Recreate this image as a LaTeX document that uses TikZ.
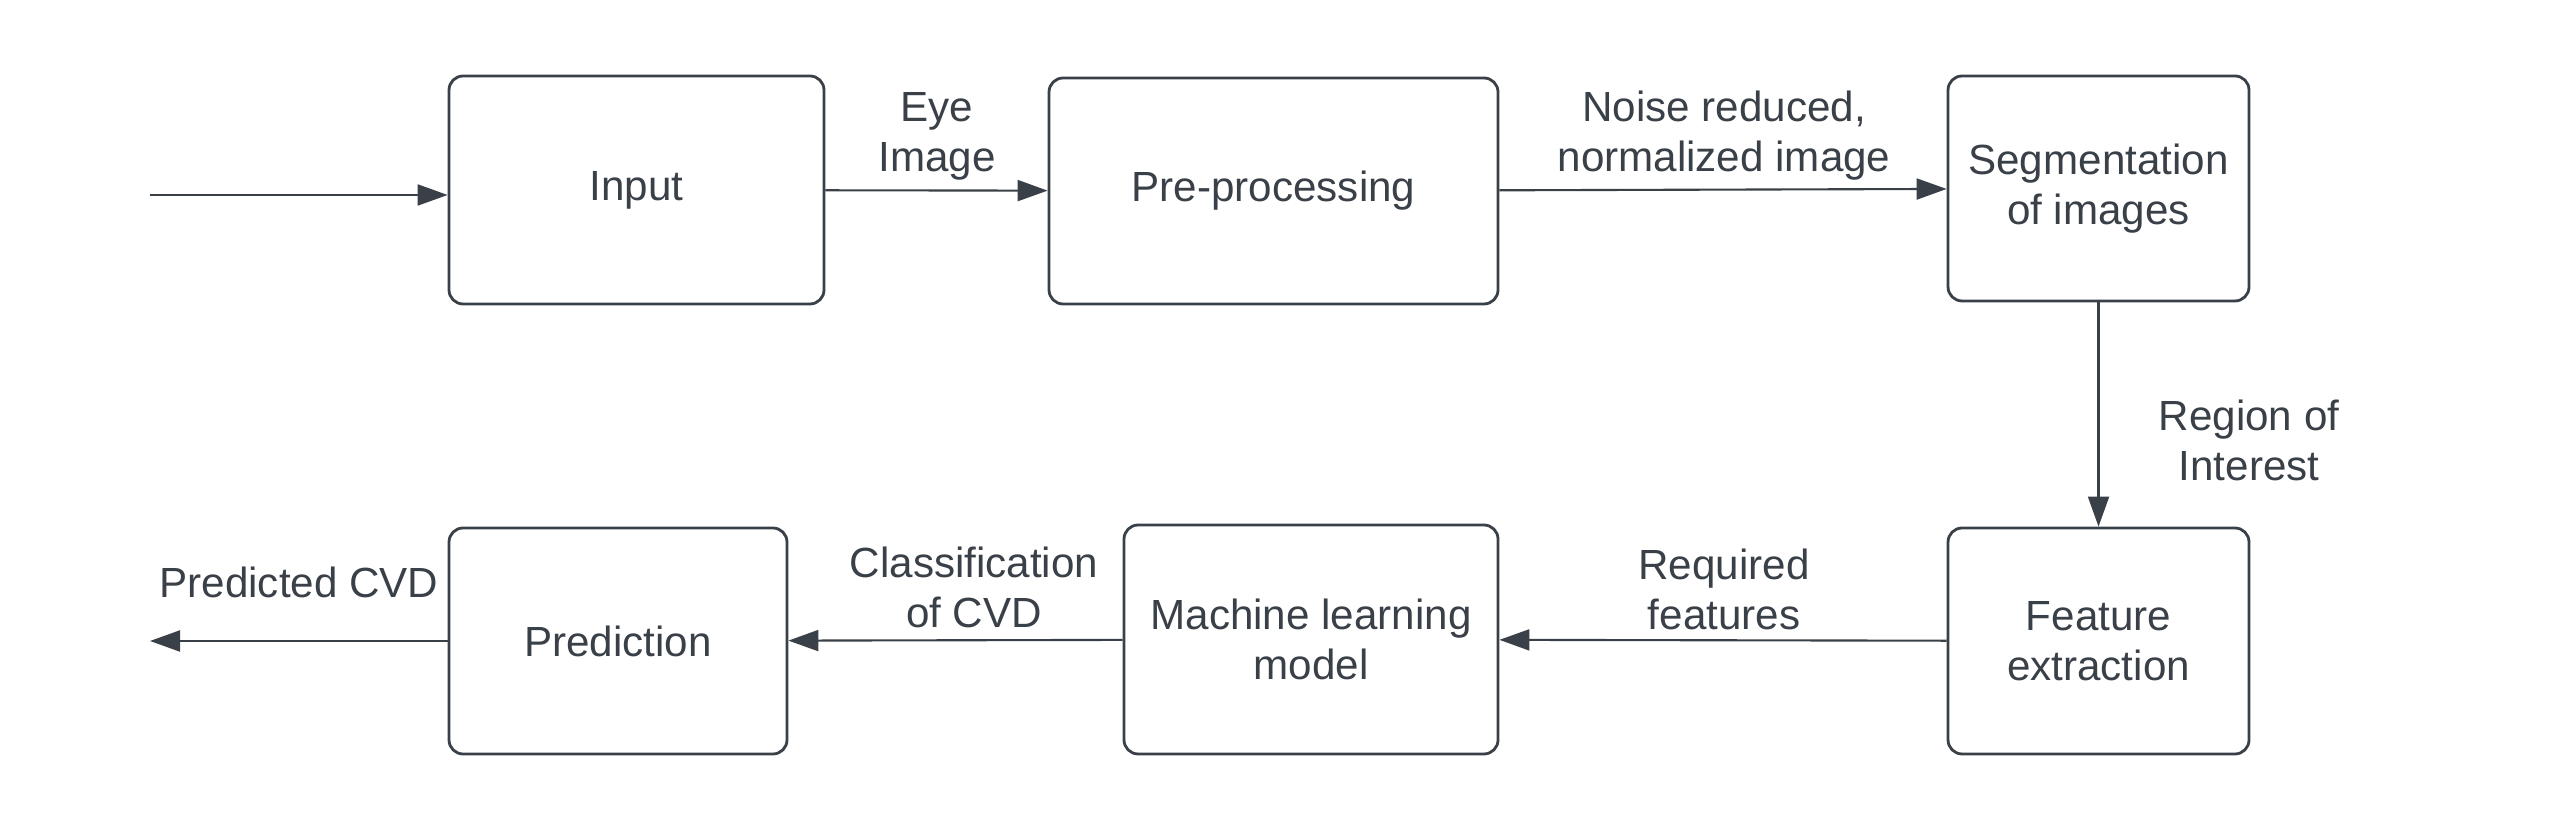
\documentclass[tikz,border=0pt]{standalone}
\usepackage{fontspec}
\setmainfont{Liberation Sans}
\definecolor{InkGray}{RGB}{58,64,72}
\usetikzlibrary{positioning,arrows.meta}
\tikzset{
  block/.style={draw=InkGray,line width=0.8pt,rounded corners=4pt,align=center,text=InkGray,
    font=\fontsize{12}{14.2}\selectfont,inner sep=2pt},
  lbl/.style={align=center,text=InkGray,font=\fontsize{12}{14.2}\selectfont,inner sep=0pt},
  flow/.style={-{Triangle[length=3mm,width=2.1mm]},line width=0.6pt,draw=InkGray},
}
\begin{document}
\begin{tikzpicture}
  \useasboundingbox (0,0) rectangle (25.5,8.29);
  % top row
  \node[block,minimum width=3.75cm,minimum height=2.28cm] (input) at (6.365,6.39) {Input};
  \node[block,minimum width=4.49cm,minimum height=2.26cm] (prep) at (12.735,6.38) {Pre-processing};
  \node[block,minimum width=3.01cm,minimum height=2.25cm] (segm) at (20.985,6.405) {Segmentation\\of images};
  % bottom row
  \node[block,minimum width=3.01cm,minimum height=2.26cm] (feat) at (20.985,1.88) {Feature\\extraction};
  \node[block,minimum width=3.74cm,minimum height=2.29cm] (mlmodel) at (13.11,1.895) {Machine learning\\model};
  \node[block,minimum width=3.38cm,minimum height=2.26cm] (pred) at (6.18,1.88) {Prediction};
  \coordinate (start) at (1.5,6.34);
  \coordinate (finish) at (1.5,1.88);
  % connectors
  \draw[flow] (start) -- (start -| input.west);
  \draw[flow] (input) -- (prep);
  \draw[flow] (prep) -- (segm);
  \draw[flow] (segm) -- (feat);
  \draw[flow] (feat) -- (mlmodel);
  \draw[flow] (mlmodel) -- (pred);
  \draw[flow] (pred) -- (finish);
  % labels
  \node[lbl] (l-eye) at (9.37,6.93) {Eye\\Image};
  \node[lbl] (l-noise) at (17.24,6.93) {Noise reduced,\\normalized image};
  \node[lbl] (l-roi) at (22.49,3.89) {Region of\\Interest};
  \node[lbl] (l-feat) at (17.24,2.395) {Required\\features};
  \node[lbl] (l-class) at (9.74,2.42) {Classification\\of CVD};
  \node[lbl] (l-out) at (2.99,2.47) {Predicted CVD};
\end{tikzpicture}
\end{document}
